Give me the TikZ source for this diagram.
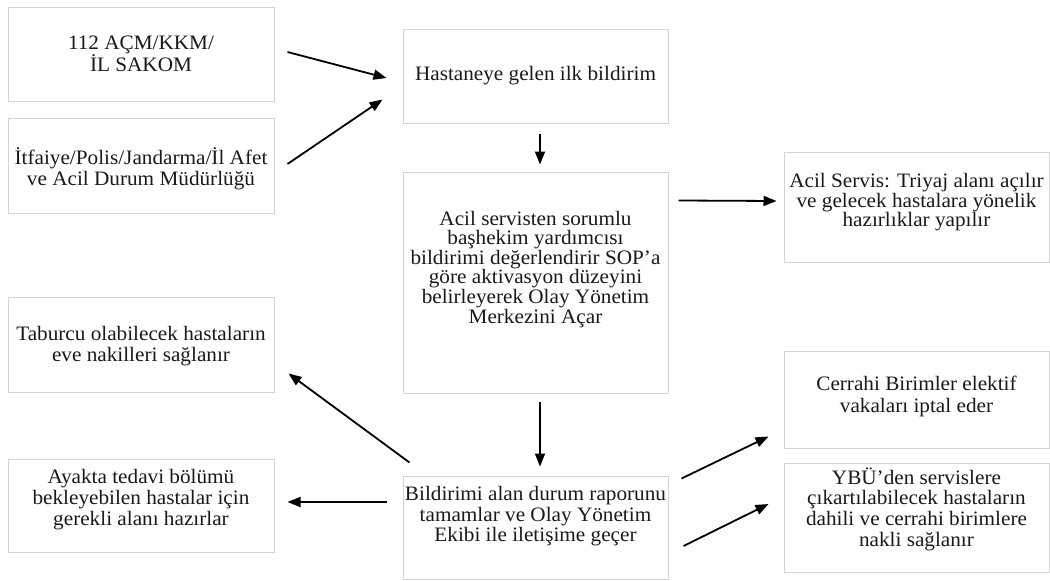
\documentclass[tikz,border=0pt]{standalone}
\usepackage{fontspec}
\setmainfont{Liberation Serif}[FakeStretch=1.035]
\usetikzlibrary{arrows.meta}
\definecolor{boxline}{RGB}{212,212,212}
\definecolor{inkcol}{RGB}{25,25,25}
\tikzset{
  box/.style={draw=boxline, line width=1pt, rectangle, inner sep=0pt},
  txt/.style={inner sep=0pt, align=center, text=inkcol,
    font=\fontsize{20.5}{21}\selectfont},
  tighttxt/.style={txt, font=\fontsize{20.5}{18.6}\selectfont},
  arr/.style={draw=black, line width=1.8pt,
    -{Triangle[length=13pt,width=10pt]}}
}
\begin{document}
\begin{tikzpicture}[x=1pt,y=-1pt]
\useasboundingbox (0,0) rectangle (1050,581);

% left column: sources and outcomes
\node[box, minimum width=266pt, minimum height=94pt] (A) at (141,54) {};
\node[txt] (At) at (A.center) {112 AÇM/KKM/\\İL SAKOM};
\node[box, minimum width=266pt, minimum height=95pt] (B) at (141,165.5) {};
\node[txt] (Bt) at ([shift={(0,3)}]B.center)
  {İtfaiye/Polis/Jandarma/İl Afet\\ve Acil Durum Müdürlüğü};
\node[box, minimum width=266pt, minimum height=95pt] (G) at (141,344.5) {};
\node[txt] (Gt) at ([shift={(0,2)}]G.center)
  {Taburcu olabilecek hastaların\\eve nakilleri sağlanır};
\node[box, minimum width=266pt, minimum height=93pt] (H) at (141,505.5) {};
\node[txt] (Ht) at ([shift={(0,-5.5)}]H.center)
  {Ayakta tedavi bölümü\\bekleyebilen hastalar için\\gerekli alanı hazırlar};

% middle column: main flow
\node[box, minimum width=265pt, minimum height=94pt] (C) at (535.5,76) {};
\node[txt] (Ct) at (C.center) {Hastaneye gelen ilk bildirim};
\node[box, minimum width=265pt, minimum height=221pt] (D) at (535.5,282.5) {};
\node[tighttxt] (Dt) at ([shift={(0,-13)}]D.center)
  {Acil servisten sorumlu\\başhekim yardımcısı\\bildirimi değerlendirir SOP’a\\göre aktivasyon düzeyini\\belirleyerek Olay Yönetim\\Merkezini Açar};
\node[box, minimum width=265pt, minimum height=103pt] (E) at (535.5,527.5) {};
\node[txt, font=\fontsize{20.5}{20.5}\selectfont] (Et) at ([shift={(0,-11)}]E.center)
  {Bildirimi alan durum raporunu\\tamamlar ve Olay Yönetim\\Ekibi ile iletişime geçer};

% right column: unit actions
\node[box, minimum width=265pt, minimum height=110pt] (F) at (916.5,207) {};
\node[txt, font=\fontsize{20.5}{19.5}\selectfont] (Ft) at ([shift={(0,-4.5)}]F.center)
  {Acil Servis: Triyaj alanı açılır\\ve gelecek hastalara yönelik\\hazırlıklar yapılır};
\node[box, minimum width=265pt, minimum height=97pt] (I) at (916.5,399.5) {};
\node[txt, font=\fontsize{20.5}{22}\selectfont] (It) at ([shift={(0,-3.5)}]I.center)
  {Cerrahi Birimler elektif\\vakaları iptal eder};
\node[box, minimum width=265pt, minimum height=109pt] (J) at (916.5,517.5) {};
\node[txt, font=\fontsize{20.5}{20.7}\selectfont] (Jt) at ([shift={(0,-8.5)}]J.center)
  {YBÜ’den servislere\\çıkartılabilecek hastaların\\dahili ve cerrahi birimlere\\nakli sağlanır};

% connectors
\draw[arr] ([shift={(13,-2)}]A.east) -- ([shift={(-16,2)}]C.west);
\draw[arr] ([shift={(13,-1.5)}]B.east) -- ([shift={(-20,-24)}]C.south west);
\draw[arr] ([shift={(4.5,10)}]C.south) -- ([shift={(4.5,-7)}]D.north);
\draw[arr] ([shift={(10,29)}]D.north east) -- ([shift={(-7,-6)}]F.west);
\draw[arr] ([shift={(4.5,8)}]D.south) -- ([shift={(4.5,-9)}]E.north);
\draw[arr] ([shift={(7,-13)}]E.north west) -- ([shift={(14,-19)}]G.south east);
\draw[arr] ([shift={(-16,-25.5)}]E.west) -- ([shift={(13,-3.5)}]H.east);
\draw[arr] ([shift={(13,3)}]E.north east) -- ([shift={(-15,-12)}]I.south west);
\draw[arr] ([shift={(15,18.5)}]E.east) -- ([shift={(-15,-13.5)}]J.west);
\end{tikzpicture}
\end{document}
